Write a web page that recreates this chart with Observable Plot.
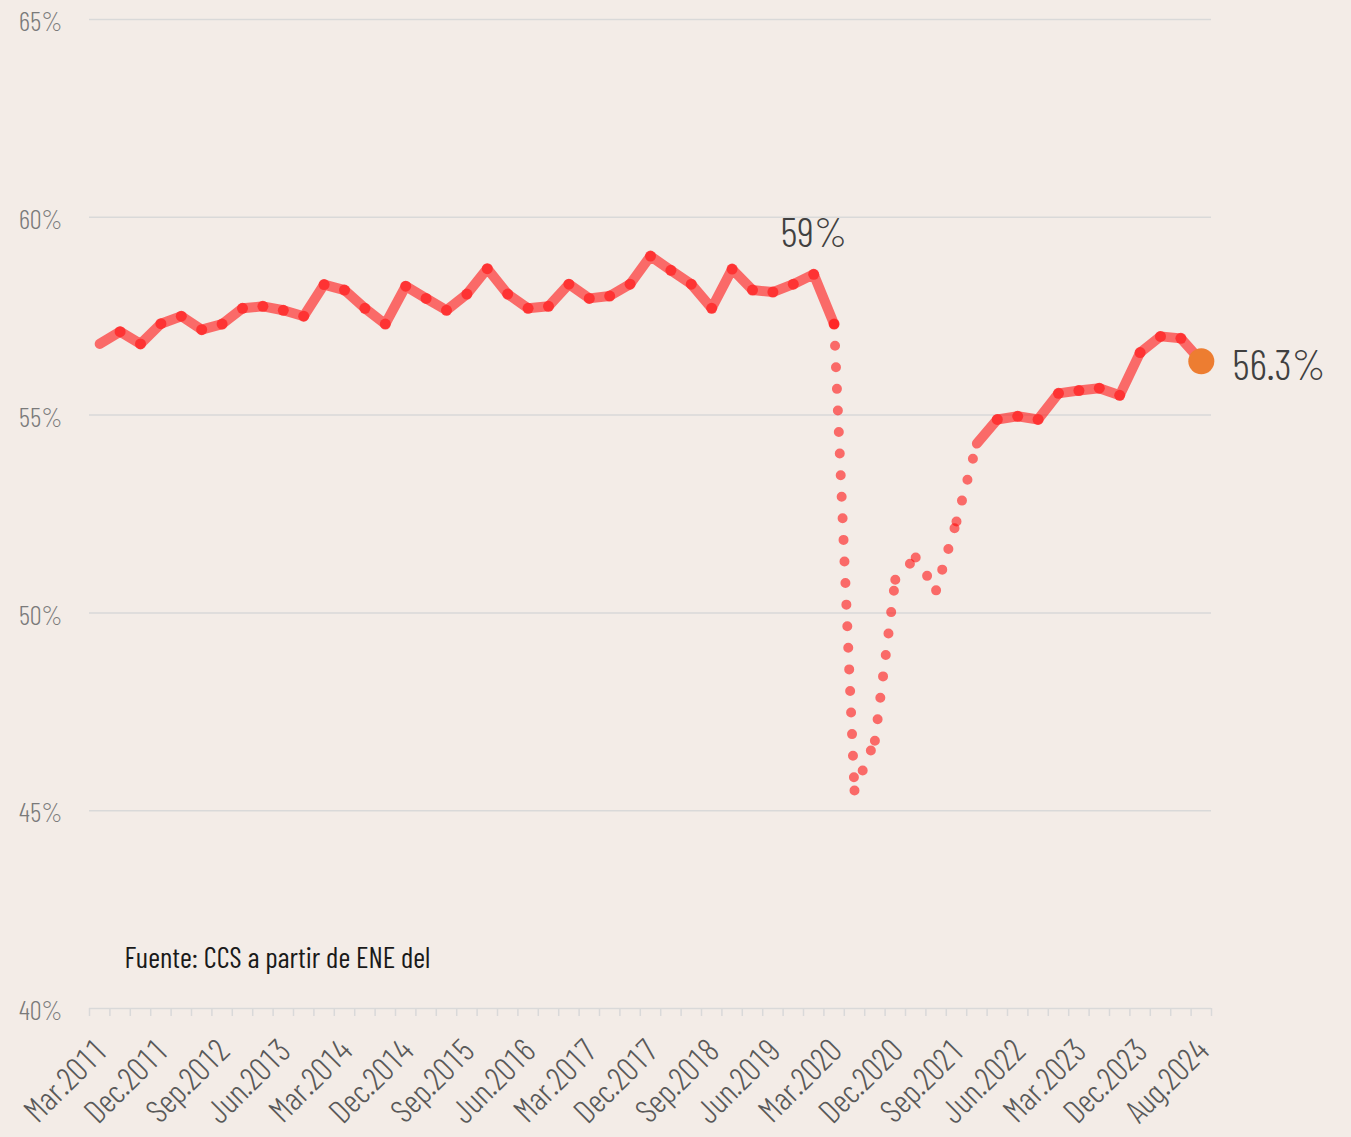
<!DOCTYPE html>
<html><head><meta charset="utf-8">
<script src="https://cdn.jsdelivr.net/npm/d3@7"></script>
<script src="https://cdn.jsdelivr.net/npm/@observablehq/plot@0.6"></script>
<style>
html,body{margin:0;padding:0;background:#F3ECE7;}
#chart svg{display:block;}
</style></head><body><div id="chart"></div>
<script>
// ---- data ----
const periods = [
  "Mar.2011","Jun.2011","Sep.2011","Dec.2011",
  "Mar.2012","Jun.2012","Sep.2012","Dec.2012",
  "Mar.2013","Jun.2013","Sep.2013","Dec.2013",
  "Mar.2014","Jun.2014","Sep.2014","Dec.2014",
  "Mar.2015","Jun.2015","Sep.2015","Dec.2015",
  "Mar.2016","Jun.2016","Sep.2016","Dec.2016",
  "Mar.2017","Jun.2017","Sep.2017","Dec.2017",
  "Mar.2018","Jun.2018","Sep.2018","Dec.2018",
  "Mar.2019","Jun.2019","Sep.2019","Dec.2019",
  "Mar.2020","Jun.2020","Sep.2020","Dec.2020",
  "Mar.2021","Jun.2021","Sep.2021","Dec.2021",
  "Mar.2022","Jun.2022","Sep.2022","Dec.2022",
  "Mar.2023","Jun.2023","Sep.2023","Dec.2023",
  "Mar.2024","Jun.2024","Aug.2024"
];
const rate = [
  56.80, 57.11, 56.80, 57.31, 57.50, 57.16, 57.30, 57.70, 57.75, 57.65,
  57.50, 58.30, 58.16, 57.70, 57.30, 58.26, 57.95, 57.65, 58.06, 58.70,
  58.06, 57.70, 57.75, 58.31, 57.95, 58.01, 58.31, 59.02, 58.66, 58.31,
  57.70, 58.69, 58.16, 58.11, 58.31, 58.56, 57.30, 45.51, 46.77, 50.84,
  51.40, 50.57, 52.31, 54.28, 54.89, 54.97, 54.89, 55.55, 55.62, 55.68,
  55.50, 56.58, 56.99, 56.94, 56.36
];
const dottedFrom = "Mar.2020";   // pandemic segment drawn dotted
const dottedTo = "Dec.2021";
const yTicks = [40, 45, 50, 55, 60, 65];
const labelStep = 3;
const annotations = [
  {period: "Dec.2019", text: "59%"},
  {period: "Aug.2024", text: "56.3%"}
];
const source = "Fuente: CCS a partir de ENE del";

// ---- font detection ----
function hasFont(name){
  const c = document.createElement("canvas").getContext("2d");
  const s = "Mar.2011 Fuente: CCS abcdefghijklm 0123456789";
  let diff = false;
  for (const fb of ["monospace","serif"]) {
    c.font = `40px ${fb}`; const w0 = c.measureText(s).width;
    c.font = `40px "${name}", ${fb}`; const w1 = c.measureText(s).width;
    if (Math.abs(w1 - w0) > 0.5) diff = true;
  }
  return diff;
}
const candidates = ["Barlow Condensed","Roboto Condensed","Liberation Sans Narrow","DejaVu Sans Condensed","Arial Narrow","Open Sans Condensed"];
const found = candidates.find(hasFont);
const FONT = found ? `"${found}", sans-serif` : `"Roboto", sans-serif`;

// ---- table ----
const rows = periods.map((p, i) => ({i, period: p, v: rate[i]}));
const iFrom = periods.indexOf(dottedFrom), iTo = periods.indexOf(dottedTo);
const solidA = rows.slice(0, iFrom + 1);
const solidB = rows.slice(iTo);
const dotted = d3.range(iFrom, iTo).map(k => ({a: rows[k], b: rows[k + 1]}));
const last = rows[rows.length - 1];
const markers = rows.filter(d => (d.i >= 1 && d.i <= iFrom) || (d.i > iTo && d.i < last.i));
const ann = annotations.map(a => ({...rows[periods.indexOf(a.period)], text: a.text}));

const RED = "#ff0000";
const chart = Plot.plot({
  width: 1351, height: 1137,
  marginLeft: 89, marginRight: 140, marginTop: 19, marginBottom: 129,
  style: {background: "#F3ECE7", fontFamily: FONT, overflow: "visible"},
  x: {type: "linear", domain: [-0.5, rows.length - 0.5]},
  y: {domain: [yTicks[0], yTicks[yTicks.length - 1]]},
  marks: [
    Plot.gridY({ticks: yTicks, stroke: "#d9d9d9", strokeOpacity: 1, strokeWidth: 1.5}),
    Plot.axisY({ticks: yTicks, tickSize: 0, tickPadding: 27, tickFormat: d => d + "%", fontSize: 27, fontWeight: 300, fill: "#7a7a7a", dy: 3, label: null}),
    Plot.axisX({ticks: d3.range(rows.length + 1).map(k => k - 0.5), tickSize: 8, tickFormat: () => "", stroke: "#d9d9d9", strokeWidth: 1.5, label: null}),
    Plot.axisX({ticks: d3.range(0, rows.length, labelStep), tickSize: 0, tickPadding: 20, dx: 2, dy: 17, tickRotate: -45, tickFormat: i => periods[i], fontSize: 33, fontWeight: 300, fill: "#595959", label: null}),
    Plot.line(solidA, {x: "i", y: "v", stroke: RED, strokeOpacity: 0.55, strokeWidth: 10, strokeLinejoin: "round"}),
    Plot.line(solidB, {x: "i", y: "v", stroke: RED, strokeOpacity: 0.55, strokeWidth: 10, strokeLinejoin: "round"}),
    Plot.link(dotted, {x1: d => d.a.i, y1: d => d.a.v, x2: d => d.b.i, y2: d => d.b.v,
      stroke: RED, strokeOpacity: 0.55, strokeWidth: 10, strokeLinecap: "round", strokeDasharray: "0 21.6"}),
    Plot.dot(markers, {x: "i", y: "v", r: 5.5, fill: "#ff2626", fillOpacity: 0.8}),
    Plot.dot([last], {x: "i", y: "v", r: 13, fill: "#ED7D31"}),
    Plot.text(ann.slice(0, 1), {x: "i", y: "v", text: "text", dy: -41, fontSize: 42, fontWeight: 300, fill: "#404040"}),
    Plot.text(ann.slice(1), {x: "i", y: "v", text: "text", dx: 31, dy: 5, textAnchor: "start", fontSize: 43, fontWeight: 300, fill: "#404040"}),
    Plot.text([source], {frameAnchor: "bottom-left", dx: 35, dy: -50, lineAnchor: "middle", textAnchor: "start", fontSize: 29, fill: "#1a1a1a"})
  ]
});
document.getElementById("chart").append(chart);
</script>
</body></html>
